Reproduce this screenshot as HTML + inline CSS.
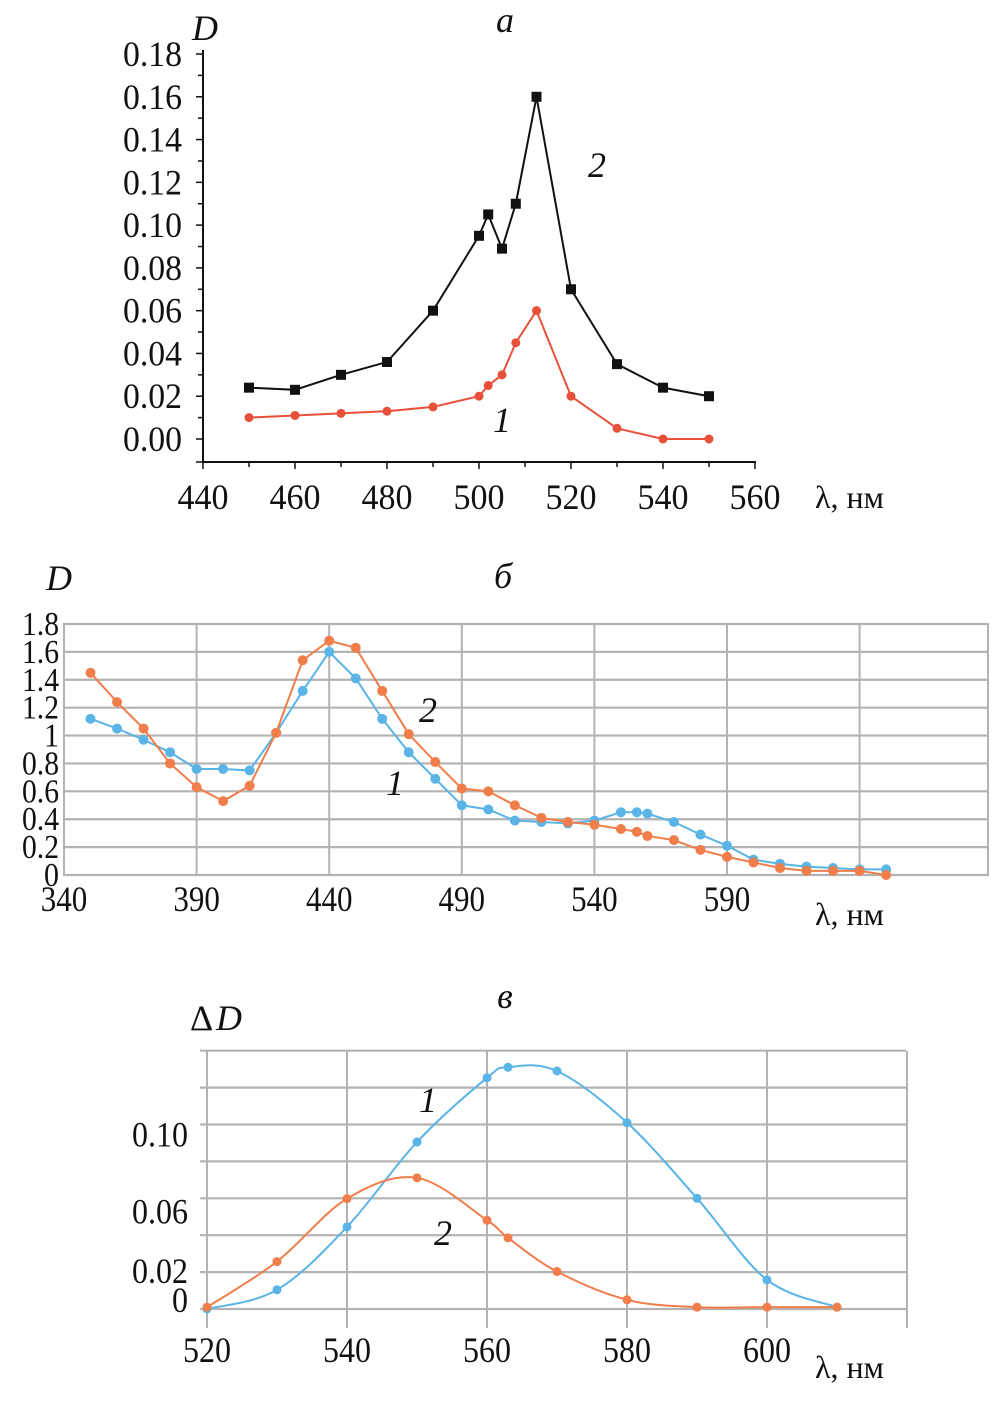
<!DOCTYPE html>
<html><head><meta charset="utf-8"><style>
html,body{margin:0;padding:0;background:#fff}
svg{display:block}
text{font-family:"Liberation Serif","Times New Roman",serif;fill:#111}
.it{font-style:italic}
</style></head><body>
<svg id="root" width="1008" height="1406" viewBox="0 0 1008 1406" xmlns="http://www.w3.org/2000/svg">
<g id="pa"></g>
<g id="pb"></g>
<g id="pc"></g>
</svg>
<script>
// Panel a data
const aX = [450,460,470,480,490,500,502,505,508,512.5,520,530,540,550];
const aS2 = [0.024,0.023,0.030,0.036,0.060,0.095,0.105,0.089,0.110,0.160,0.070,0.035,0.024,0.020];
const aS1 = [0.010,0.011,0.012,0.013,0.015,0.020,0.025,0.030,0.045,0.060,0.020,0.005,0.000,0.000];
const aXTicks = [440,460,480,500,520,540,560];
const aYTicks = ["0.00","0.02","0.04","0.06","0.08","0.10","0.12","0.14","0.16","0.18"];
// Panel b data
const bX = [350,360,370,380,390,400,410,420,430,440,450,460,470,480,490,500,510,520,530,540,550,556,560,570,580,590,600,610,620,630,640,650];
const bS1 = [1.12,1.05,0.97,0.88,0.76,0.76,0.75,1.02,1.32,1.60,1.41,1.12,0.88,0.69,0.50,0.47,0.39,0.38,0.37,0.39,0.45,0.45,0.44,0.38,0.29,0.21,0.11,0.08,0.06,0.05,0.04,0.04];
const bS2 = [1.45,1.24,1.05,0.80,0.63,0.53,0.64,1.02,1.54,1.68,1.63,1.32,1.01,0.81,0.62,0.60,0.50,0.41,0.38,0.36,0.33,0.31,0.28,0.25,0.18,0.13,0.09,0.05,0.03,0.03,0.03,0.00];
const bXTicks = [340,390,440,490,540,590];
const bYTicks = ["0","0.2","0.4","0.6","0.8","1","1.2","1.4","1.6","1.8"];
// Panel c data
const cX = [520,530,540,550,560,563,570,580,590,600,610];
const cS1 = [0.000,0.0104,0.0445,0.0905,0.1253,0.131,0.129,0.101,0.060,0.0158,0.001];
const cS2 = [0.001,0.0257,0.0598,0.0711,0.0481,0.0386,0.0203,0.005,0.001,0.001,0.001];
const cXTicks = [520,540,560,580,600];
const cYTickLabels = ["0","0.02","0.06","0.10"];
const cYTickValues = [0,0.02,0.06,0.10];

const NS="http://www.w3.org/2000/svg";
function mk(parent,tag,attrs,txt){const e=document.createElementNS(NS,tag);for(const k in attrs)e.setAttribute(k,attrs[k]);if(txt!==undefined)e.textContent=txt;parent.appendChild(e);return e;}
function tw(s,dw,pw){let w=0;for(const ch of s)w+=(ch==='.'?pw:dw);return w;}
function lab(g,x,y,s,fs,anchor,dw,pw,name){const e=mk(g,'text',{x:x,y:y,'text-anchor':anchor,'font-size':fs,'font-family':'Liberation Serif, Times New Roman, serif',textLength:tw(s,dw,pw),lengthAdjust:'spacingAndGlyphs'},s);return e;}
function spline(pts){let d="M"+pts[0][0]+","+pts[0][1];for(let i=0;i<pts.length-1;i++){const p0=pts[i-1]||pts[i],p1=pts[i],p2=pts[i+1],p3=pts[i+2]||p2;const t=6;d+=" C"+(p1[0]+(p2[0]-p0[0])/t)+","+(p1[1]+(p2[1]-p0[1])/t)+" "+(p2[0]-(p3[0]-p1[0])/t)+","+(p2[1]-(p3[1]-p1[1])/t)+" "+p2[0]+","+p2[1];}return d;}
function txt(g,x,y,s,fs,cls,anchor,name){const e=mk(g,'text',{x:x,y:y,'font-size':fs,'text-anchor':anchor||'start','font-family':'Liberation Serif, Times New Roman, serif'},s);if(cls)e.setAttribute('font-style','italic');return e;}

// ---------- Panel a ----------
(function(){
const g=document.getElementById('pa');
const xs=v=>203+(v-440)*552/120, ys=v=>439-v*385/0.18;
let e;
e=mk(g,'line',{x1:203,y1:50,x2:203,y2:462,stroke:'#111','stroke-width':2});

e=mk(g,'line',{x1:203,y1:462,x2:756,y2:462,stroke:'#111','stroke-width':2});

for(let i=0;i<=18;i++){const y=ys(i*0.01);mk(g,'line',{x1:i%2?198:196,y1:y,x2:203,y2:y,stroke:'#111','stroke-width':1.5});}
mk(g,'line',{x1:196,y1:462,x2:203,y2:462,stroke:'#111','stroke-width':1.5});
for(let v=440;v<=560;v+=10)mk(g,'line',{x1:xs(v),y1:462,x2:xs(v),y2:v%20?467:469,stroke:'#111','stroke-width':1.5});
aYTicks.forEach(t=>lab(g,182,ys(parseFloat(t))+12,t,36,'end',17,8,'y-tick-label'));
aXTicks.forEach(t=>lab(g,xs(t),509,String(t),36,'middle',17,8,'x-tick-label'));
txt(g,815,508,'λ, нм',32,false,'start','x-axis-title');
txt(g,192,40,'D',36,true,'start','y-axis-title');
txt(g,505,32,'а',36,true,'middle','panel-label');
e=mk(g,'polyline',{points:aX.map((x,i)=>xs(x)+','+ys(aS2[i])).join(' '),fill:'none',stroke:'#111','stroke-width':2});

aX.forEach((x,i)=>{e=mk(g,'rect',{x:xs(x)-5,y:ys(aS2[i])-5,width:10,height:10,fill:'#111'});});
e=mk(g,'polyline',{points:aX.map((x,i)=>xs(x)+','+ys(aS1[i])).join(' '),fill:'none',stroke:'#e8503a','stroke-width':2});

aX.forEach((x,i)=>{e=mk(g,'circle',{cx:xs(x),cy:ys(aS1[i]),r:4.5,fill:'#e8503a'});});
txt(g,597,177,'2',36,true,'middle','curve-label-2');
txt(g,502,432,'1',36,true,'middle','curve-label-1');
})();

// ---------- Panel b ----------
(function(){
const g=document.getElementById('pb');
const xs=v=>64+(v-340)*663/250, ys=v=>875-v*251/1.8;
let e;
for(let i=0;i<=9;i++){const y=ys(i*0.2);mk(g,'line',{x1:64,y1:y,x2:988,y2:y,stroke:'#b3b3b3','stroke-width':2.2});}
for(let v=390;v<=640;v+=50)mk(g,'line',{x1:xs(v),y1:ys(1.8),x2:xs(v),y2:875,stroke:'#b3b3b3','stroke-width':2});
e=mk(g,'rect',{x:64,y:ys(1.8),width:924,height:875-ys(1.8),fill:'none',stroke:'#b3b3b3','stroke-width':2});

bYTicks.forEach(t=>lab(g,59,ys(parseFloat(t))+11,t,34,'end',15,7,'y-tick-label'));
bXTicks.forEach(t=>lab(g,xs(t),911,String(t),36,'middle',15.5,8,'x-tick-label'));
txt(g,815,925,'λ, нм',32,false,'start','x-axis-title');
txt(g,46,590,'D',36,true,'start','y-axis-title');
txt(g,503,588,'б',36,true,'middle','panel-label');
const series=[[bS1,'#5ab4e5','series-1'],[bS2,'#f07d4a','series-2']];
series.forEach(([s,c,n])=>{
 e=mk(g,'polyline',{points:bX.map((x,i)=>xs(x)+','+ys(s[i])).join(' '),fill:'none',stroke:c,'stroke-width':2});
 
 bX.forEach((x,i)=>{e=mk(g,'circle',{cx:xs(x),cy:ys(s[i]),r:5,fill:c});});
});
txt(g,428,722,'2',36,true,'middle','curve-label-2');
txt(g,395,795,'1',36,true,'middle','curve-label-1');
})();

// ---------- Panel c ----------
(function(){
const g=document.getElementById('pc');
const xs=v=>207+(v-520)*7, ys=v=>1309-v*36.9/0.02;
const yOff=[3,11,25,22];
let e;
for(let i=0;i<=7;i++){const y=ys(i*0.02);mk(g,'line',{x1:200,y1:y,x2:906,y2:y,stroke:'#b3b3b3','stroke-width':2.2});}
for(let v=540;v<=620;v+=20)mk(g,'line',{x1:xs(v),y1:ys(0.14),x2:xs(v),y2:1328,stroke:'#b3b3b3','stroke-width':2});
e=mk(g,'line',{x1:207,y1:ys(0.14),x2:207,y2:1328,stroke:'#b3b3b3','stroke-width':2});

cYTickLabels.forEach((t,i)=>lab(g,188,ys(cYTickValues[i])+yOff[i],t,36,'end',16,8,'y-tick-label'));
cXTicks.forEach(t=>lab(g,xs(t),1362,String(t),36,'middle',16,8,'x-tick-label'));
txt(g,815,1378,'λ, нм',32,false,'start','x-axis-title');
txt(g,190,1030,'Δ',36,false,'start','y-axis-title');
txt(g,216,1030,'D',36,true,'start','y-axis-title-d');
txt(g,505,1008,'в',36,true,'middle','panel-label');
const series=[[cS1,'#5ab4e5','series-1'],[cS2,'#f07d4a','series-2']];
series.forEach(([s,c,n])=>{
 const pts=cX.map((x,i)=>[xs(x),ys(s[i])]);
 e=mk(g,'path',{d:spline(pts),fill:'none',stroke:c,'stroke-width':2});
 
 pts.forEach(p=>{e=mk(g,'circle',{cx:p[0],cy:p[1],r:4.5,fill:c});});
});
txt(g,428,1112,'1',36,true,'middle','curve-label-1');
txt(g,443,1245,'2',36,true,'middle','curve-label-2');
})();
</script>
</body></html>
